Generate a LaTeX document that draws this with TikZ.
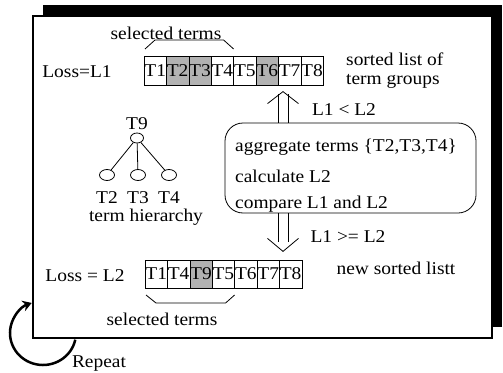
\documentclass[tikz,border=0pt]{standalone}
\usepackage{fontspec}
\setmainfont[FakeStretch=1.08]{Liberation Serif}
\usetikzlibrary{positioning, calc, shapes.geometric, arrows.meta}
\tikzset{txt/.style={font=\fontsize{18}{16}\selectfont, inner sep=0pt}}
\tikzset{cell/.style={draw, thin, minimum width=22.4pt, minimum height=29pt, inner sep=0pt, outer sep=0pt}}
\tikzset{leaf/.style={draw, thick, ellipse, minimum width=15pt, minimum height=11pt, inner sep=0pt}}
\tikzset{brace/.style={thick, black}}
\tikzset{hollow/.style={thick, black}}
\begin{document}
\begin{tikzpicture}[x=1pt, y=-1pt, every node/.style={txt}]
		\useasboundingbox (0,0) rectangle (503,372);
		% frame with shadow
		\fill[black] (43,5) rectangle (502,327);
		\draw[line width=1.5pt, fill=white] (33,16) rectangle (492,338);
		% sorted list
		\foreach \name/\c [count=\i] in {T1/white, T2/black!30, T3/black!30, T4/white, T5/white, T6/black!30, T7/white, T8/white} { \node[cell, fill=\c] (t\i) at ({144+22.4*(\i-0.5)}, 70.5) {\name}; }
		\node (lossa) at (77,72) {Loss=L1};
		\node[anchor=west] (sorted) at (346,59) {sorted list of};
		\node[anchor=west] (groups) at (346,81) {term groups};
		\draw[brace] ($(t1.north west)+(1,-7)$) -- ++(10,-9) -- ($(t4.north east)+(-10,-16)$) -- ++(10,9);
		\node (sela) at (166,33) {selected terms};
		% new sorted list
		\foreach \name/\c [count=\i] in {T1/white, T4/white, T9/black!30, T5/white, T6/white, T7/white, T8/white} { \node[cell, fill=\c, minimum height=28pt] (b\i) at ({145+22.4*(\i-0.5)}, 274) {\name}; }
		\node (lossb) at (85,276) {Loss = L2};
		\node (newlist) at (396,268) {new sorted listt};
		\draw[brace] ($(b1.south west)+(1,7)$) -- ++(10,8) -- ($(b4.south east)+(-9,15)$) -- ++(9,-8);
		\node (selb) at (162,319) {selected terms};
		% process box
		\node[draw, thick, rounded corners=18pt, minimum width=251pt, minimum height=90pt] (proc) at (350.5,168) {};
		\node[anchor=west] (stepa) at (235,147) {aggregate terms \{T2,T3,T4\}};
		\node[anchor=west] (stepb) at (235,176) {calculate L2};
		\node[anchor=west] (stepc) at (235,204) {compare L1 and L2};
		% up and down arrows
		\draw[hollow] ($(proc.north)+(-72.5,0)$) -- ++(0,-29);
		\draw[hollow] ($(proc.north)+(-62.5,0)$) -- ++(0,-29);
		\draw[hollow] ($(proc.north)+(-83,-19)$) -- ($(proc.north)+(-67.5,-31)$) -- ($(proc.north)+(-52,-19)$);
		\node (less) at (344,110) {L1 < L2};
		\draw[hollow] ($(proc.south)+(-72.5,0)$) -- ++(0,29);
		\draw[hollow] ($(proc.south)+(-62.5,0)$) -- ++(0,29);
		\draw[hollow] ($(proc.south)+(-83,25)$) -- ($(proc.south)+(-67.5,38)$) -- ($(proc.south)+(-52,25)$);
		\node (geq) at (348,237) {L1 >= L2};
		% term hierarchy
		\node[leaf, minimum width=13pt, minimum height=10pt] (root) at (137,138) {};
		\node (t9) at (137,124) {T9};
		\foreach \name/\x [count=\i] in {T2/107, T3/138, T4/169} {
			\node[leaf] (c\i) at (\x,175) {};
			\node (l\i) at (\x,198) {\name};
			\draw[thick] (root) -- (c\i);
		}
		\node (hier) at (146,217) {term hierarchy};
		% repeat
		\draw[line width=2.5pt, -{Stealth[length=9pt, width=11pt]}] (43,333) ++(12:33 and 32) arc[start angle=12, end angle=250, x radius=33, y radius=32];
		\node (rep) at (99,364) {Repeat};
	\end{tikzpicture}
\end{document}
